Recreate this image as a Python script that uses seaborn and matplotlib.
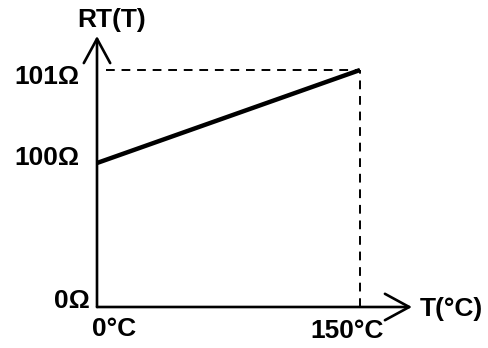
import numpy as np
import pandas as pd
import matplotlib
matplotlib.use("Agg")
import matplotlib.pyplot as plt
import seaborn as sns

# data
temps = [0, 150]
resist = [100, 101]
ytick_vals = [0, 100, 101]
ytick_labels = ["0\u03a9", "100\u03a9", "101\u03a9"]
xtick_labels = ["0\u00b0C", "150\u00b0C"]
x_label = "T(\u00b0C)"
y_label = "RT(T)"

sns.set_theme(style="white")
plt.rcParams['font.family'] = ['Liberation Sans', 'DejaVu Sans']
plt.rcParams['text.color'] = 'black'

W, H = 488, 348
fig = plt.figure(figsize=(W / 100, H / 100), dpi=100)
# axes in pixel coordinates
left, right, top, bottom = 97, 412, 36, 307
ax = fig.add_axes([left / W, 1 - bottom / H, (right - left) / W, (bottom - top) / H])

# schematic (broken) y scale: piecewise linear
src = [0, 100, 101, 200]
dst = [0, 144, 237, 237 + 99 * 93]
fwd = lambda v: np.interp(v, src, dst)
inv = lambda v: np.interp(v, dst, src)
ax.set_yscale('function', functions=(fwd, inv))

df = pd.DataFrame({"T": temps, "R": resist})
sns.lineplot(data=df, x="T", y="R", ax=ax, color="black", linewidth=3.2,
             solid_capstyle="butt")

xmax = temps[1] * (right - left) / (360 - left)
ax.set_xlim(0, xmax)
ax.set_ylim(0, inv(bottom - top))

# dashed guide lines
ax.plot([5, temps[1]], [resist[1], resist[1]], color="black", lw=1.4, ls=(0, (4.5, 3.5)))
ax.plot([temps[1], temps[1]], [0, resist[1]], color="black", lw=1.4, ls=(0, (4.5, 3.5)))

for s in ax.spines.values():
    s.set_visible(False)
ax.set_xticks([]); ax.set_yticks([])
ax.set_xlabel(""); ax.set_ylabel("")
ax.grid(False)

# axes with open arrowheads
ap = dict(arrowstyle="->,head_length=1.75,head_width=0.95", color="black", lw=1.9,
          mutation_scale=10, shrinkA=0, shrinkB=0)
ax.annotate("", xy=(0, 1), xytext=(0, 0), xycoords="axes fraction", arrowprops=ap)
ax.annotate("", xy=(1, 0), xytext=(0, 0), xycoords="axes fraction", arrowprops=ap)

fs = 19
def ptext(x, y, s, ha="center", va="center"):
    fig.text(x / W, 1 - y / H, s, ha=ha, va=va, fontsize=fs, fontweight="bold",
             color="black")

ptext(112, 20, y_label)
ptext(80, 77, ytick_labels[2], ha="right")
ptext(80, 158, ytick_labels[1], ha="right")
ptext(90, 301, ytick_labels[0], ha="right")
ptext(92, 329, xtick_labels[0], ha="left")
ptext(347, 331, xtick_labels[1])
ptext(420, 309, x_label, ha="left")

fig.savefig("out.png", dpi=100)
